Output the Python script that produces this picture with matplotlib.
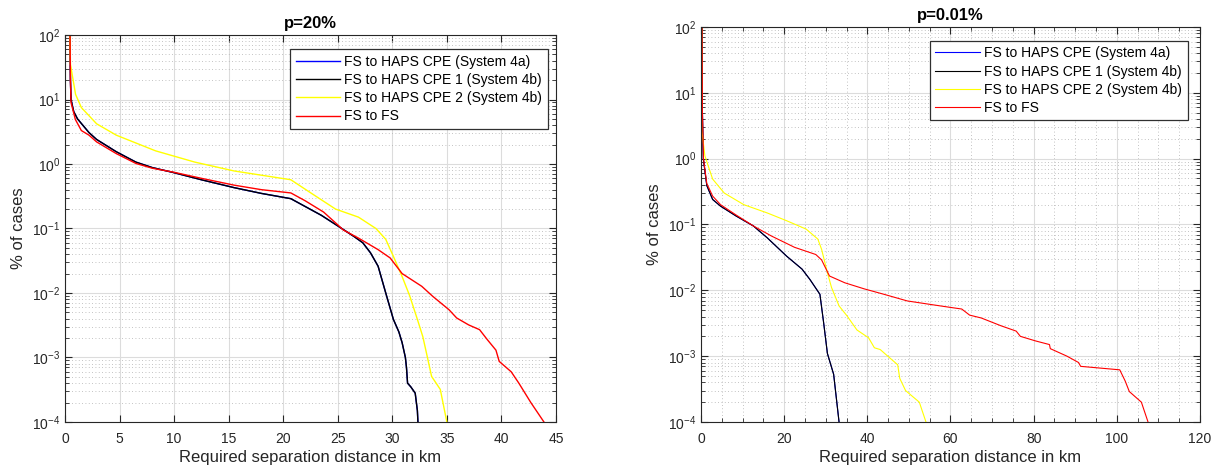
import matplotlib
matplotlib.use("Agg")
import matplotlib.pyplot as plt
from matplotlib.ticker import LogLocator, MultipleLocator, NullFormatter

plt.rcParams['font.family'] = ['Liberation Sans', 'DejaVu Sans']

labels = ['FS to HAPS CPE (System 4a)', 'FS to HAPS CPE 1 (System 4b)',
          'FS to HAPS CPE 2 (System 4b)', 'FS to FS']
colors = ['#0000ff', '#000000', '#ffff00', '#ff0000']

# p=20%
cpe_x_20 = [0.46, 0.5, 0.55, 0.8, 1.15, 2.2, 2.9, 4.7, 6.5, 8.0, 9.9, 12.5, 15.5, 18.0, 20.7,
            22.0, 23.5, 25.1, 26.5, 27.3, 28.0, 28.7, 29.4, 30.1, 30.6, 30.9, 31.2, 31.3,
            31.4, 31.7, 32.1, 32.3, 32.35]
cpe_y_20 = [100, 20, 10, 6.5, 5.0, 3.07, 2.4, 1.55, 1.07, 0.88, 0.74, 0.57, 0.43, 0.35, 0.29,
            0.22, 0.16, 0.107, 0.075, 0.06, 0.042, 0.026, 0.01, 0.0039, 0.0025, 0.0017, 0.001,
            0.0007, 0.0004, 0.00035, 0.00028, 0.00015, 1e-4]
cpe2_x_20 = [0.45, 0.5, 0.97, 1.5, 2.9, 4.7, 8.3, 11.9, 15.5, 20.7, 22.6, 24.8, 26.9, 28.5,
             29.4, 30.1, 30.9, 31.6, 32.3, 32.8, 33.2, 33.6, 34.4, 35.0]
cpe2_y_20 = [100, 35, 12, 7.5, 4.2, 2.8, 1.6, 1.07, 0.78, 0.57, 0.35, 0.2, 0.15, 0.1,
             0.068, 0.037, 0.018, 0.009, 0.0039, 0.0021, 0.00104, 0.00051, 0.00032, 1e-4]
fs_x_20 = [0.46, 0.5, 0.55, 0.95, 1.5, 2.2, 2.9, 4.7, 6.5, 8.0, 9.9, 12.5, 15.5, 18.0, 20.7,
           22.0, 23.7, 25.1, 25.5, 26.9, 28.7, 29.8, 30.9, 32.7, 33.7, 35.2, 35.9, 37.0, 38.0,
           38.7, 39.5, 39.8, 40.9, 41.6, 42.7, 43.9]
fs_y_20 = [100, 20, 9, 4.9, 3.3, 2.8, 2.2, 1.45, 1.02, 0.86, 0.75, 0.6, 0.47, 0.4, 0.356,
           0.27, 0.18, 0.11, 0.095, 0.071, 0.047, 0.035, 0.02, 0.0127, 0.0089, 0.0055, 0.0041,
           0.0032, 0.0027, 0.0019, 0.0013, 0.00087, 0.0006, 0.0004, 0.0002, 1e-4]

# p=0.01%
cpe_x_001 = [0.25, 0.35, 0.56, 1.4, 2.8, 4.7, 8.4, 12.6, 15.9, 20.6, 24.3, 26.2, 28.6, 29.5,
             30.4, 31.9, 33.2]
cpe_y_001 = [100, 5, 1.0, 0.39, 0.24, 0.19, 0.135, 0.095, 0.063, 0.033, 0.021, 0.0146, 0.0087,
             0.0032, 0.0011, 0.00053, 1e-4]
cpe2_x_001 = [0.2, 0.25, 0.94, 2.8, 5.6, 10.3, 15.9, 20.6, 25.3, 28.1, 29.0, 30.4, 31.4, 33.2,
              35.1, 37.5, 40.3, 41.7, 43.1, 45.4, 47.3, 47.8, 49.2, 52.5, 54.1]
cpe2_y_001 = [100, 2.6, 1.1, 0.49, 0.30, 0.2, 0.15, 0.114, 0.085, 0.06, 0.042, 0.0185, 0.011,
              0.0058, 0.0041, 0.0025, 0.0019, 0.00134, 0.00126, 0.00094, 0.00074, 0.00046,
              0.0003, 0.0002, 1e-4]
fs_x_001 = [0.25, 0.35, 0.6, 1.4, 2.8, 4.7, 8.4, 12.6, 16.9, 22.5, 27.6, 29.0, 30.9, 34.6, 39.3,
            44.0, 49.6, 55.2, 60.0, 62.7, 64.6, 67.4, 72.1, 75.8, 76.8, 80.5, 83.8, 84.0, 88.0,
            90.8, 91.3, 100.7, 102.0, 103.0, 105.9, 107.5]
fs_y_001 = [100, 5, 1.0, 0.42, 0.27, 0.2, 0.14, 0.095, 0.067, 0.045, 0.035, 0.029, 0.0165,
            0.013, 0.0105, 0.0087, 0.0069, 0.0061, 0.0055, 0.0052, 0.0042, 0.0038, 0.0029,
            0.0024, 0.002, 0.0017, 0.0015, 0.0013, 0.001, 0.0008, 0.0007, 0.00062, 0.00042,
            0.00029, 0.0002, 1e-4]

fig = plt.figure(figsize=(12.24, 4.75), dpi=100)
ax1 = fig.add_axes([0.0531, 0.1116, 0.4011, 0.8147])
ax2 = fig.add_axes([0.5727, 0.1116, 0.4077, 0.8316])

panels = [
    (ax1, 'p=20%', [(cpe_x_20, cpe_y_20), (cpe_x_20, cpe_y_20), (cpe2_x_20, cpe2_y_20),
                    (fs_x_20, fs_y_20)], 45, 5, None, 1.0, (0.983, 0.963)),
    (ax2, 'p=0.01%', [(cpe_x_001, cpe_y_001), (cpe_x_001, cpe_y_001), (cpe2_x_001, cpe2_y_001),
                      (fs_x_001, fs_y_001)], 120, 20, 5, 0.8, (0.975, 0.965)),
]

for ax, title, series, xmax, xmaj, xmin_step, lw, leg_pos in panels:
    for (x, y), c, lab in zip(series, colors, labels):
        ax.plot(x, y, color=c, lw=lw, label=lab)
    ax.set_yscale('log')
    ax.set_ylim(1e-4, 1e2)
    ax.set_xlim(0, xmax)
    ax.xaxis.set_major_locator(MultipleLocator(xmaj))
    if xmin_step:
        ax.xaxis.set_minor_locator(MultipleLocator(xmin_step))
        ax.grid(True, which='minor', axis='x', color='#b0b0b0', lw=0.6, ls=(0, (1, 3)))
    ax.yaxis.set_major_locator(LogLocator(base=10, numticks=10))
    ax.yaxis.set_minor_locator(LogLocator(base=10, subs=range(2, 10), numticks=20))
    ax.yaxis.set_minor_formatter(NullFormatter())
    ax.grid(True, which='major', color='#dcdcdc', lw=0.8)
    ax.grid(True, which='minor', axis='y', color='#b0b0b0', lw=0.6, ls=(0, (1, 3)))
    ax.set_axisbelow(True)
    ax.tick_params(which='both', direction='in', top=True, right=True, colors='#262626',
                   labelsize=10)
    ax.tick_params(which='major', length=5)
    ax.tick_params(which='minor', length=3)
    ax.tick_params(axis='x', which='major', pad=7)
    for s in ax.spines.values():
        s.set_color('#262626')
        s.set_linewidth(0.8)
    ax.set_title(title, fontsize=12, fontweight='bold', pad=5)
    ax.set_xlabel('Required separation distance in km', fontsize=12, color='#262626',
                  labelpad=3)
    ax.set_ylabel('% of cases', fontsize=12, color='#262626')
    leg = ax.legend(loc='upper right', bbox_to_anchor=leg_pos, borderaxespad=0,
                    fontsize=10, fancybox=False, framealpha=1, edgecolor='#303030',
                    handlelength=3.2, handletextpad=0.3, labelspacing=0.3, borderpad=0.4)
    leg.get_frame().set_linewidth(0.9)

fig.savefig('out.png', dpi=100)
